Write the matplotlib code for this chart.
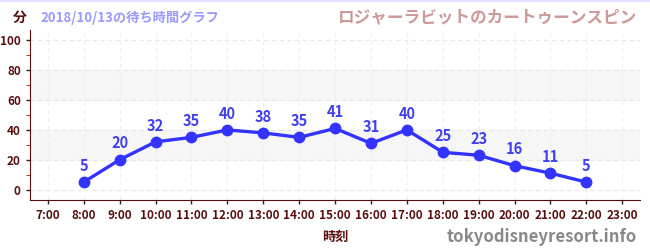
import matplotlib.pyplot as plt
from matplotlib.lines import Line2D

plt.rcParams['font.family'] = ['Noto Sans CJK JP', 'DejaVu Sans']

hours = [8, 9, 10, 11, 12, 13, 14, 15, 16, 17, 18, 19, 20, 21, 22]
waits = [5, 20, 32, 35, 40, 38, 35, 41, 31, 40, 25, 23, 16, 11, 5]
tick_hours = list(range(7, 24))
tick_labels = ['{}:00'.format(h) for h in tick_hours]
y_ticks = [0, 20, 40, 60, 80, 100]

fig = plt.figure(figsize=(6.5, 2.5), dpi=100)
ax = fig.add_axes([0.046, 0.2, 0.939, 0.68])

dark = '#5a0f0f'
ax.axhspan(20, 40, color='#f6f6f6', zorder=0)
ax.axhspan(60, 80, color='#f6f6f6', zorder=0)
for y in y_ticks:
    ax.axhline(y, color='#e8e8e8', lw=0.8, ls=(0, (4, 3)), zorder=1)
for h in tick_hours:
    ax.axvline(h, color='#eeeeee', lw=0.8, ls=(0, (4, 3)), zorder=1)

ax.plot(hours, waits, color='#3333ff', lw=2.4, marker='o', ms=7.5, zorder=3)
for h, w in zip(hours, waits):
    ax.annotate(str(w), (h, w), xytext=(0, 6), textcoords='offset points',
                ha='center', va='bottom', color='#4040ee', fontsize=10.5, fontweight='bold')

ax.set_xlim(6.5, 23.5)
ax.set_ylim(-7, 107)
ax.set_xticks(tick_hours)
ax.set_xticklabels(tick_labels)
ax.set_yticks(y_ticks)
ax.set_yticks([10, 30, 50, 70, 90], minor=True)
ax.tick_params(axis='both', colors='#222222', labelcolor=dark, labelsize=8.5, length=3, width=1)
ax.tick_params(axis='y', which='minor', colors='#cc0000', length=3)
for lab in ax.get_xticklabels() + ax.get_yticklabels():
    lab.set_fontweight('bold')
for s in ['top', 'right']:
    ax.spines[s].set_visible(False)
ax.spines['left'].set_color(dark)
ax.spines['bottom'].set_color(dark)

ax.set_xlabel('時刻', color=dark, fontsize=9.5, fontweight='bold', labelpad=6)
fig.text(0.031, 0.93, '分', color=dark, fontsize=10, fontweight='bold', ha='center', va='center')
fig.text(0.062, 0.93, '2018/10/13の待ち時間グラフ', color='#9999ff', fontsize=9.5,
         fontweight='bold', ha='left', va='center')
fig.text(0.98, 0.93, 'ロジャーラビットのカートゥーンスピン', color='#cc9999', fontsize=12,
         fontweight='bold', ha='right', va='center')
fig.text(0.98, 0.05, 'tokyodisneyresort.info', color='#888888', fontsize=12,
         fontweight='bold', ha='right', va='center')
fig.add_artist(Line2D([0, 1], [0.997, 0.997], color='#e0e0ff', lw=1.5, transform=fig.transFigure))

fig.savefig('out.png', dpi=100)
